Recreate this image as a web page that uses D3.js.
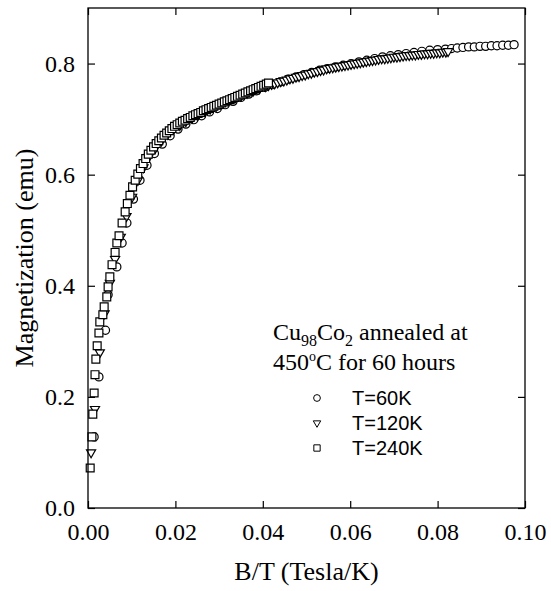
<!DOCTYPE html>
<html>
<head>
<meta charset="utf-8">
<script src="https://cdn.jsdelivr.net/npm/d3@7"></script>
<style>
  body { margin: 0; background: #fff; }
</style>
</head>
<body>
<div class="chart"></div>
<script>
// values: B/T (Tesla/K) and magnetization (emu)
const bt60 = [0.0014, 0.0025, 0.0040, 0.0046, 0.0066, 0.0078, 0.0089, 0.0104, 0.0119, 0.0135,
  0.0152, 0.0170, 0.0188, 0.0206, 0.0224, 0.0242, 0.0260, 0.0278, 0.0296, 0.0314,
  0.0332, 0.0350, 0.0368, 0.0386, 0.0404, 0.0422, 0.0440, 0.0458, 0.0476, 0.0494,
  0.0512, 0.0530, 0.0548, 0.0566, 0.0584, 0.0602, 0.0620, 0.0638, 0.0656, 0.0674,
  0.0692, 0.0710, 0.0728, 0.0746, 0.0764, 0.0782, 0.0800, 0.0818, 0.0832, 0.0845,
  0.0858, 0.0871, 0.0884, 0.0897, 0.0910, 0.0923, 0.0936, 0.0949, 0.0962, 0.0975];
const m60 = [0.128, 0.236, 0.320, 0.384, 0.434, 0.477, 0.513, 0.556, 0.590, 0.617,
  0.638, 0.655, 0.670, 0.682, 0.691, 0.699, 0.706, 0.713, 0.719, 0.726,
  0.732, 0.739, 0.745, 0.751, 0.757, 0.762, 0.767, 0.772, 0.776, 0.780,
  0.784, 0.788, 0.791, 0.794, 0.797, 0.800, 0.803, 0.806, 0.809, 0.812,
  0.814, 0.816, 0.818, 0.820, 0.822, 0.824, 0.825, 0.826, 0.827, 0.828,
  0.829, 0.830, 0.830, 0.831, 0.831, 0.832, 0.832, 0.833, 0.833, 0.834];

const bt120 = [0.0007, 0.0016, 0.0027, 0.0038, 0.0050, 0.0062, 0.0075, 0.0088, 0.0101, 0.0114,
  0.0127, 0.0140, 0.0154, 0.0168, 0.0182, 0.0196, 0.0210, 0.0224, 0.0238, 0.0252,
  0.0266, 0.0280, 0.0294, 0.0308, 0.0322, 0.0336, 0.0350, 0.0364, 0.0378, 0.0392,
  0.0406, 0.0413, 0.0420, 0.0427, 0.0434, 0.0441, 0.0448, 0.0455, 0.0462, 0.0469,
  0.0476, 0.0483, 0.0490, 0.0497, 0.0504, 0.0511, 0.0518, 0.0525, 0.0532, 0.0539,
  0.0546, 0.0553, 0.0560, 0.0567, 0.0574, 0.0581, 0.0588, 0.0595, 0.0602, 0.0609,
  0.0616, 0.0623, 0.0630, 0.0637, 0.0644, 0.0651, 0.0658, 0.0665, 0.0672, 0.0679,
  0.0686, 0.0693, 0.0700, 0.0707, 0.0714, 0.0721, 0.0728, 0.0735, 0.0742, 0.0749,
  0.0756, 0.0763, 0.0770, 0.0777, 0.0784, 0.0791, 0.0798, 0.0805, 0.0812, 0.0819, 0.0824];
const m120 = [0.100, 0.178, 0.280, 0.350, 0.405, 0.448, 0.488, 0.525, 0.560, 0.590,
  0.613, 0.633, 0.648, 0.661, 0.673, 0.682, 0.689, 0.696, 0.702, 0.708,
  0.714, 0.719, 0.724, 0.729, 0.734, 0.738, 0.742, 0.747, 0.751, 0.755,
  0.759, 0.761, 0.763, 0.764, 0.766, 0.768, 0.769, 0.771, 0.773, 0.774,
  0.776, 0.777, 0.779, 0.780, 0.782, 0.783, 0.785, 0.786, 0.788, 0.789,
  0.791, 0.792, 0.793, 0.794, 0.795, 0.796, 0.797, 0.798, 0.799, 0.800,
  0.801, 0.802, 0.803, 0.804, 0.805, 0.806, 0.807, 0.808, 0.809, 0.809,
  0.810, 0.811, 0.812, 0.812, 0.813, 0.814, 0.815, 0.815, 0.816, 0.816,
  0.817, 0.817, 0.818, 0.818, 0.819, 0.819, 0.820, 0.820, 0.821, 0.821, 0.822];

const bt240 = [0.0005, 0.0009, 0.0011, 0.0014, 0.0016, 0.0018, 0.0021, 0.0025, 0.0027, 0.0034,
  0.0037, 0.0043, 0.0046, 0.0050, 0.0055, 0.0062, 0.0066, 0.0071, 0.0078, 0.0085,
  0.0090, 0.0096, 0.0102, 0.0108, 0.0114, 0.0120, 0.0126, 0.0132, 0.0138, 0.0144,
  0.0150, 0.0156, 0.0162, 0.0168, 0.0174, 0.0180, 0.0186, 0.0192, 0.0198, 0.0204,
  0.0210, 0.0216, 0.0222, 0.0228, 0.0234, 0.0240, 0.0246, 0.0252, 0.0258, 0.0264,
  0.0270, 0.0276, 0.0282, 0.0288, 0.0294, 0.0300, 0.0306, 0.0312, 0.0318, 0.0324,
  0.0330, 0.0336, 0.0342, 0.0348, 0.0354, 0.0360, 0.0366, 0.0372, 0.0378, 0.0384,
  0.0390, 0.0396, 0.0402, 0.0408, 0.0413];
const m240 = [0.072, 0.128, 0.169, 0.207, 0.240, 0.268, 0.292, 0.315, 0.335, 0.348,
  0.362, 0.380, 0.398, 0.416, 0.438, 0.460, 0.477, 0.490, 0.513, 0.533,
  0.548, 0.563, 0.578, 0.590, 0.601, 0.611, 0.620, 0.629, 0.637, 0.644,
  0.650, 0.656, 0.661, 0.666, 0.671, 0.675, 0.679, 0.683, 0.687, 0.690,
  0.693, 0.696, 0.698, 0.701, 0.703, 0.706, 0.708, 0.710, 0.712, 0.715,
  0.717, 0.719, 0.721, 0.723, 0.725, 0.727, 0.729, 0.731, 0.733, 0.735,
  0.737, 0.739, 0.741, 0.743, 0.745, 0.747, 0.749, 0.751, 0.753, 0.755,
  0.757, 0.759, 0.761, 0.763, 0.765];

const seriesNames = ['T=60K', 'T=120K', 'T=240K'];
const xTicks = [0, 0.02, 0.04, 0.06, 0.08, 0.10];
const yTicks = [0, 0.2, 0.4, 0.6, 0.8];

const w = 551;
const h = 591;
const padding = { top: 8, right: 26, bottom: 83, left: 88 };
const serif = '"Liberation Serif", "Times New Roman", Times, serif';
const sans = '"Liberation Sans", Arial, Helvetica, sans-serif';

const series = [
  { name: seriesNames[0], shape: d3.symbolCircle, size: 52, rotate: 0, points: bt60.map((d, i) => [d, m60[i]]) },
  { name: seriesNames[1], shape: d3.symbolTriangle, size: 36, rotate: 180, points: bt120.map((d, i) => [d, m120[i]]) },
  { name: seriesNames[2], shape: d3.symbolSquare, size: 62, rotate: 0, points: bt240.map((d, i) => [d, m240[i]]) }
];

const xScale = d3.scaleLinear().domain([0, 0.10]).range([padding.left, w - padding.right]);
const yScale = d3.scaleLinear().domain([0, 0.9]).range([h - padding.bottom, padding.top]);

const svg = d3.select('.chart')
  .append('svg')
  .attr('width', w)
  .attr('height', h);

// data first, frame and ticks on top
series.forEach((s) => {
  svg.append('g')
    .selectAll('path')
    .data(s.points)
    .join('path')
    .attr('d', d3.symbol(s.shape, s.size))
    .attr('transform', (d) => `translate(${xScale(d[0])},${yScale(d[1])}) rotate(${s.rotate})`)
    .attr('fill', '#fff')
    .attr('stroke', '#000')
    .attr('stroke-width', 1.2);
});

svg.append('rect')
  .attr('x', padding.left)
  .attr('y', padding.top)
  .attr('width', w - padding.left - padding.right)
  .attr('height', h - padding.top - padding.bottom)
  .attr('fill', 'none')
  .attr('stroke', '#000')
  .attr('stroke-width', 1.3);

function styleAxis(g) {
  g.select('.domain').remove();
  g.selectAll('.tick line').attr('stroke', '#000').attr('stroke-width', 1.2);
  g.selectAll('.tick text').attr('fill', '#000');
  g.attr('font-family', serif).attr('font-size', 24);
}

svg.append('g')
  .attr('transform', `translate(0, ${h - padding.bottom})`)
  .call(d3.axisBottom(xScale).tickValues(xTicks).tickFormat(d3.format('.2f'))
    .tickSizeInner(-7).tickSizeOuter(0).tickPadding(15))
  .call(styleAxis);

svg.append('g')
  .attr('transform', `translate(0, ${padding.top})`)
  .call(d3.axisTop(xScale).tickValues(xTicks).tickFormat('')
    .tickSizeInner(-7).tickSizeOuter(0))
  .call(styleAxis);

svg.append('g')
  .attr('transform', `translate(${padding.left}, 0)`)
  .call(d3.axisLeft(yScale).tickValues(yTicks).tickFormat(d3.format('.1f'))
    .tickSizeInner(-7).tickSizeOuter(0).tickPadding(13))
  .call(styleAxis);

svg.append('g')
  .attr('transform', `translate(${w - padding.right}, 0)`)
  .call(d3.axisRight(yScale).tickValues(yTicks).tickFormat('')
    .tickSizeInner(-7).tickSizeOuter(0))
  .call(styleAxis);

// axis titles
svg.append('text')
  .attr('x', (padding.left + w - padding.right) / 2)
  .attr('y', 580)
  .attr('text-anchor', 'middle')
  .attr('font-family', serif)
  .attr('font-size', 26)
  .text('B/T (Tesla/K)');

svg.append('text')
  .attr('transform', `translate(33, ${(padding.top + h - padding.bottom) / 2}) rotate(-90)`)
  .attr('text-anchor', 'middle')
  .attr('font-family', serif)
  .attr('font-size', 26)
  .text('Magnetization (emu)');

// legend
const legend = svg.append('g').attr('transform', 'translate(273, 340)');

const title1 = legend.append('text')
  .attr('font-family', serif)
  .attr('font-size', 24);
title1.append('tspan').text('Cu');
title1.append('tspan').attr('dy', 6).attr('font-size', 16).text('98');
title1.append('tspan').attr('dy', -6).text('Co');
title1.append('tspan').attr('dy', 6).attr('font-size', 16).text('2');
title1.append('tspan').attr('dy', -6).text(' annealed at');

const title2 = legend.append('text')
  .attr('y', 30)
  .attr('font-family', serif)
  .attr('font-size', 24);
title2.append('tspan').text('450');
title2.append('tspan').attr('dy', -9).attr('font-size', 14).text('o');
title2.append('tspan').attr('dy', 9).text('C for 60 hours');

const entries = legend.selectAll('g.entry')
  .data(series)
  .join('g')
  .attr('class', 'entry')
  .attr('transform', (d, i) => `translate(0, ${58 + i * 25})`);

entries.append('path')
  .attr('d', (d) => d3.symbol(d.shape, d.shape === d3.symbolSquare ? 40 : (d.shape === d3.symbolCircle ? 36 : 24))())
  .attr('transform', (d) => `translate(44, 0) rotate(${d.rotate})`)
  .attr('fill', '#fff')
  .attr('stroke', '#000')
  .attr('stroke-width', 1);

entries.append('text')
  .attr('x', 79)
  .attr('y', 7)
  .attr('font-family', sans)
  .attr('font-size', 20)
  .text((d) => d.name);
</script>
</body>
</html>
